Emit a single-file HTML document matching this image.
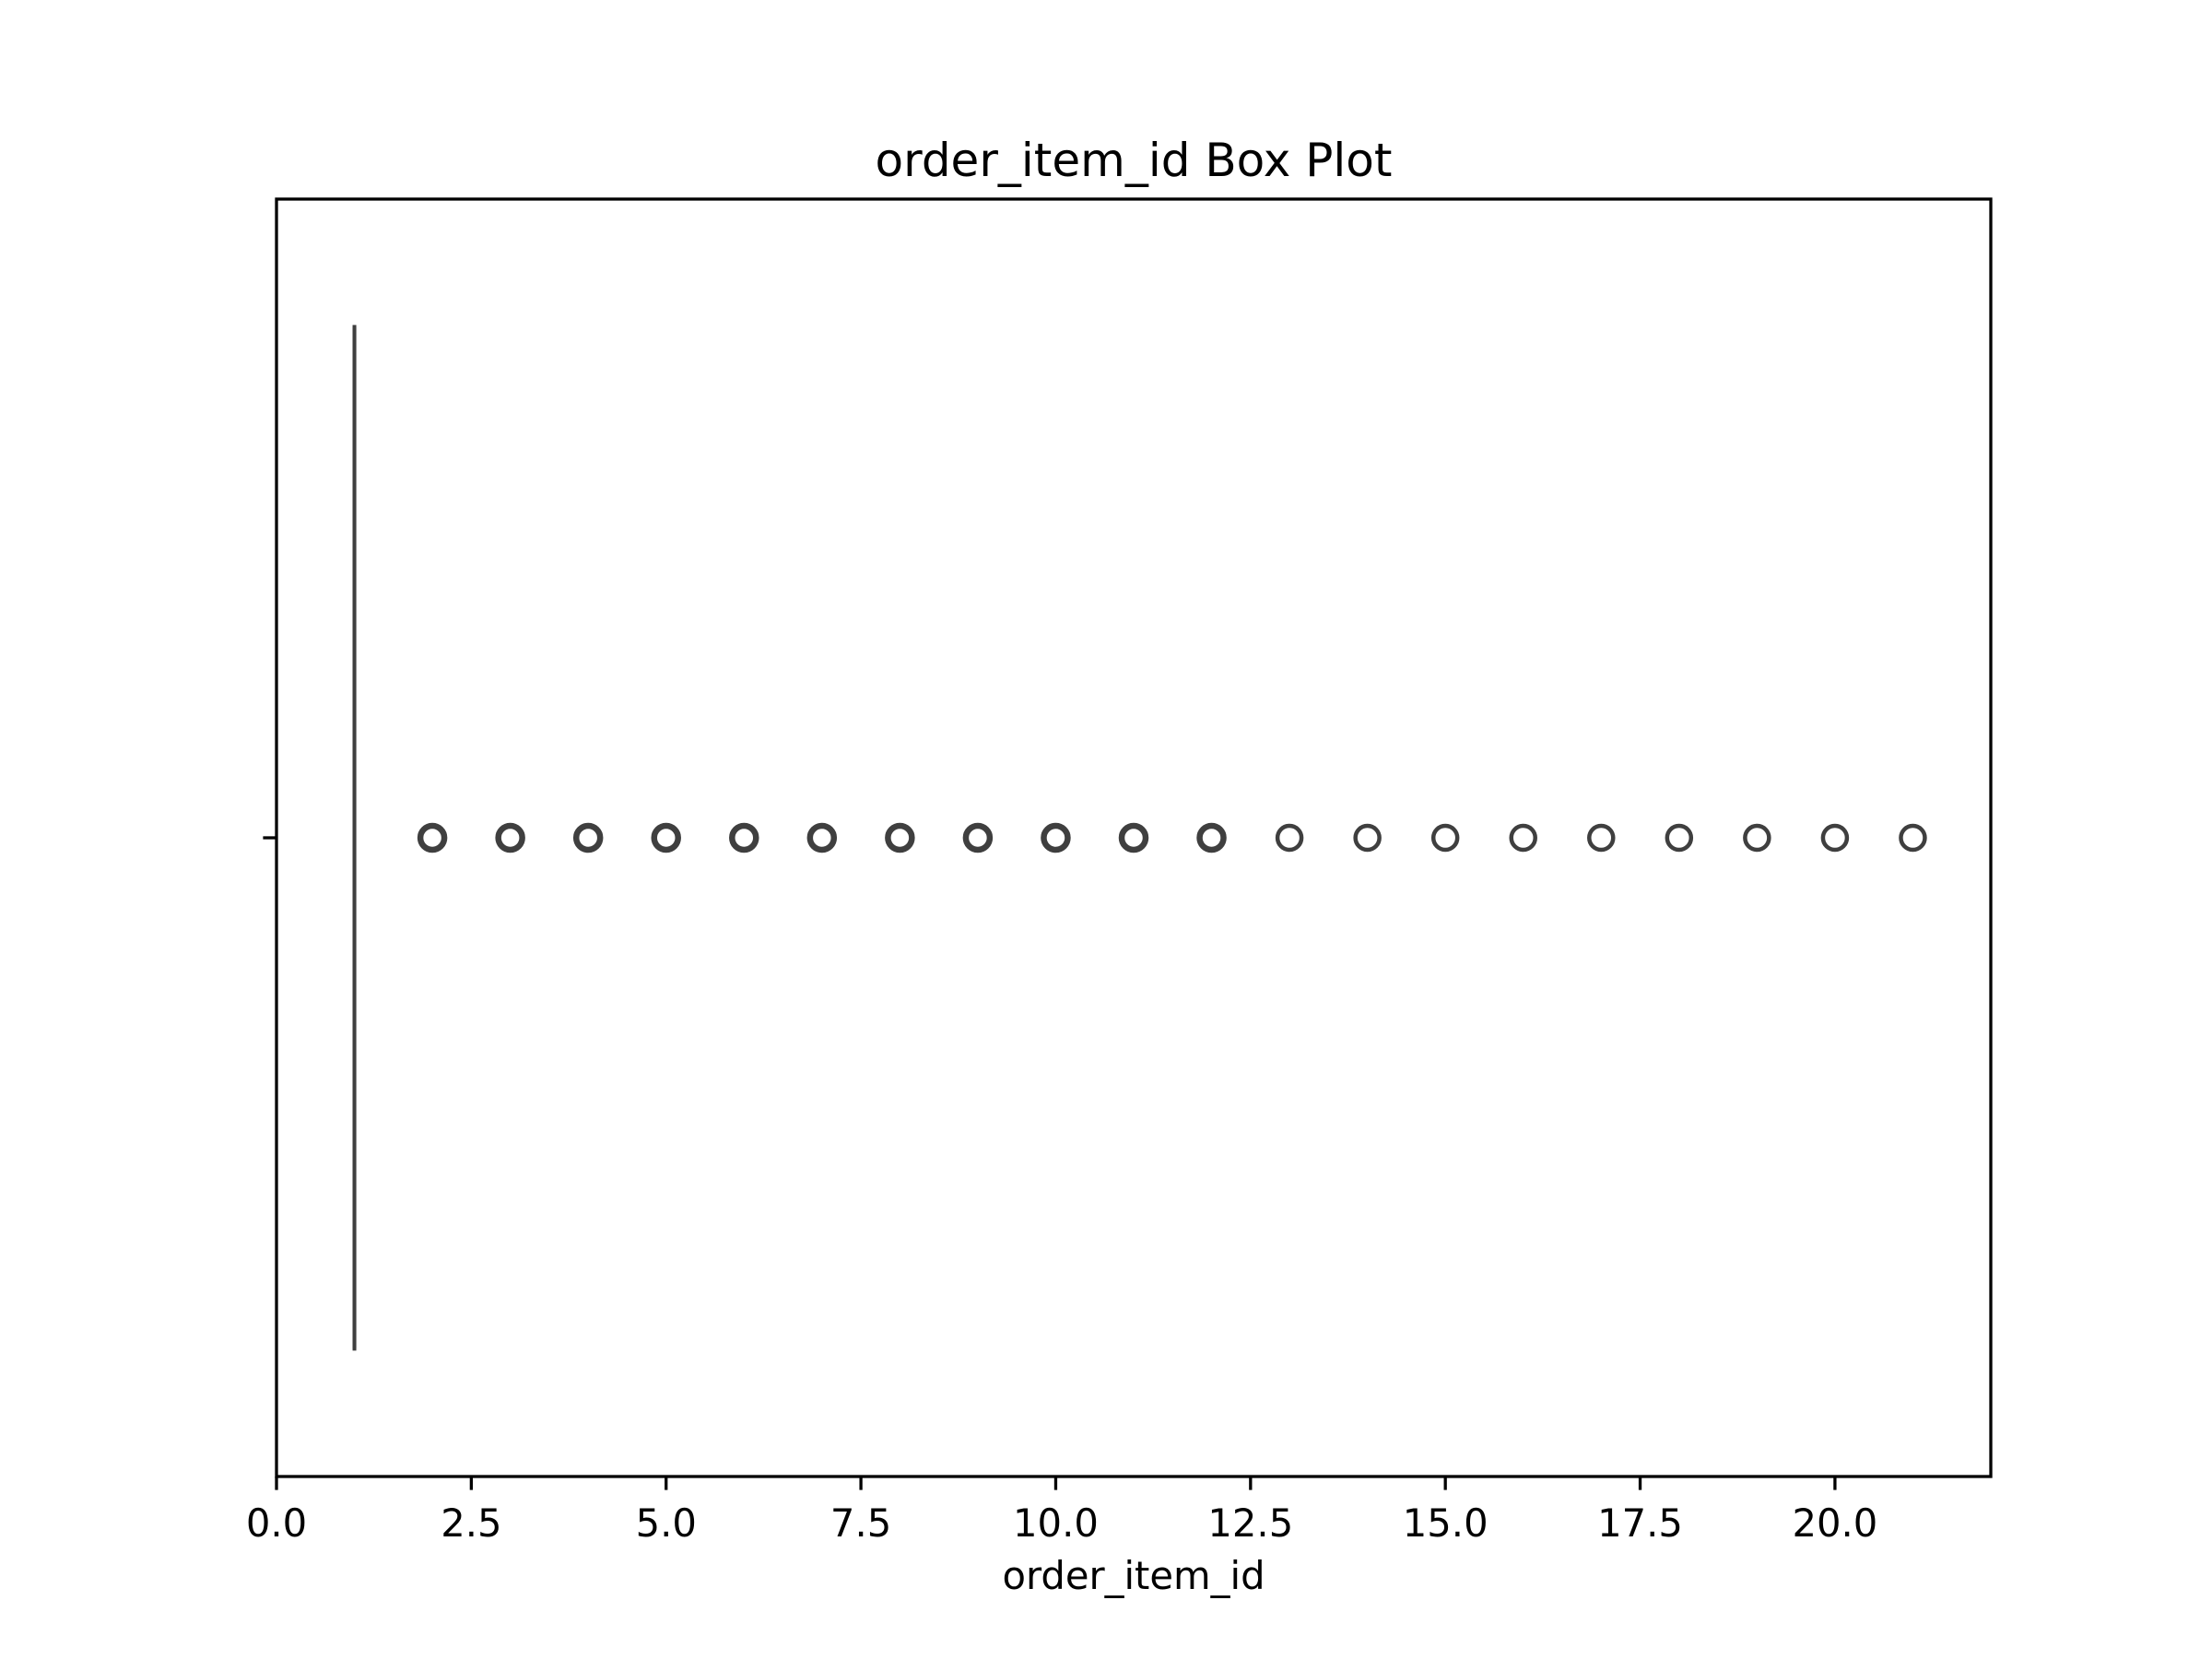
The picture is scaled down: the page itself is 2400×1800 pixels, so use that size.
<!DOCTYPE html>
<html><head><meta charset="utf-8"><style>html,body{margin:0;padding:0;background:#fff}svg{display:block}</style></head>
<body>
<svg id="chart" width="2400" height="1800" xmlns="http://www.w3.org/2000/svg" font-family="DejaVu Sans, Liberation Sans, sans-serif">
<rect width="2400" height="1800" fill="#fff"/>
<text x="1230" y="191" font-size="50" text-anchor="middle">order_item_id Box Plot</text>
<text x="1230" y="1724" font-size="41.7" text-anchor="middle">order_item_id</text>
<g id="plot"></g>
</svg>
<script>
const boxStats = [1, 1, 1, 1, 1]; // whiskerLow, q1, median, q3, whiskerHigh
const outliers = [2,3,4,5,6,7,8,9,10,11,12,13,14,15,16,17,18,19,20,21];
const outlierRepeats = [9,9,9,9,9,9,9,9,9,9,9,1,1,1,1,1,1,1,1,1];
const xTicks = [0, 2.5, 5, 7.5, 10, 12.5, 15, 17.5, 20];
const xTickLabels = ["0.0","2.5","5.0","7.5","10.0","12.5","15.0","17.5","20.0"];
const xDomain = [0, 22];

const L=300,R=2160,T=216,B=1602;
const ns="http://www.w3.org/2000/svg";
const g=document.getElementById('plot');
const xs=v=>L+(v-xDomain[0])/(xDomain[1]-xDomain[0])*(R-L);
const yc=(T+B)/2, half=0.4*(B-T);
function mk(tag,attrs){const e=document.createElementNS(ns,tag);for(const k in attrs)e.setAttribute(k,attrs[k]);g.appendChild(e);return e;}

const box=mk('rect',{x:xs(boxStats[1]),y:yc-half,width:Math.max(xs(boxStats[3])-xs(boxStats[1]),0.01),height:2*half,fill:'#3274a1',stroke:'#3f3f3f','stroke-width':4});


const med=mk('line',{x1:xs(boxStats[2]),x2:xs(boxStats[2]),y1:yc-half,y2:yc+half,stroke:'#3f3f3f','stroke-width':4});


const wl=mk('line',{x1:xs(boxStats[0]),x2:xs(boxStats[1]),y1:yc,y2:yc,stroke:'#3f3f3f','stroke-width':4});


const wh=mk('line',{x1:xs(boxStats[3]),x2:xs(boxStats[4]),y1:yc,y2:yc,stroke:'#3f3f3f','stroke-width':4});



outliers.forEach((v,i)=>{
  const c=mk('circle',{cx:xs(v),cy:yc,r:13,fill:'none',stroke:'#3f3f3f','stroke-width':outlierRepeats[i]>1?6.5:4.5});
  
  
});

xTicks.forEach((v,i)=>{
  const t=mk('line',{x1:xs(v),x2:xs(v),y1:B,y2:B+14.6,stroke:'#000','stroke-width':3.3});
  
  
  const l=mk('text',{x:xs(v),y:1667,'font-size':41.7,'text-anchor':'middle'});
  l.textContent=xTickLabels[i];
  
  
});
const yt=mk('line',{x1:L-14.6,x2:L,y1:yc,y2:yc,stroke:'#000','stroke-width':3.3});



const frame=mk('rect',{x:L,y:T,width:R-L,height:B-T,fill:'none',stroke:'#000','stroke-width':3.3});


</script>
</body></html>
